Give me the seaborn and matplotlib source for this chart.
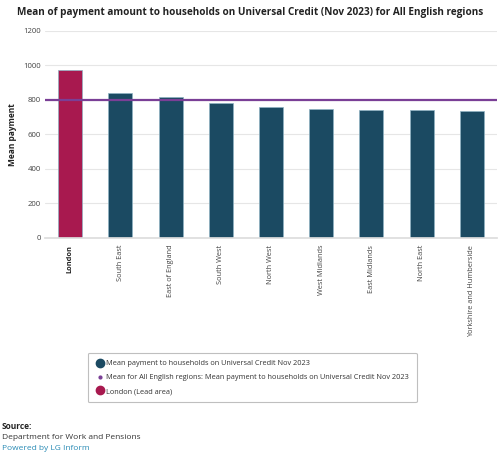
import pandas as pd
import matplotlib
matplotlib.use("Agg")
import matplotlib.pyplot as plt
import seaborn as sns
from matplotlib.lines import Line2D

# --- data ---
regions = ['London', 'South East', 'East of England', 'South West', 'North West',
           'West Midlands', 'East Midlands', 'North East', 'Yorkshire and Humberside']
mean_payment = [972, 841, 818, 784, 757, 748, 744, 743, 738]
england_mean = 798
lead_area = 'London'
y_ticks = [0, 200, 400, 600, 800, 1000, 1200]

teal = '#1b4a62'
crimson = '#a8194f'
purple = '#7a3f96'

df = pd.DataFrame({'region': regions, 'payment': mean_payment})
palette = {r: (crimson if r == lead_area else teal) for r in regions}

sns.set_theme(style='white')
plt.rcParams['font.family'] = ['Open Sans', 'DejaVu Sans']

fig = plt.figure(figsize=(5, 4.54), dpi=100)
ax = fig.add_axes([0.09, 0.476, 0.904, 0.456])

sns.barplot(data=df, x='region', y='payment', hue='region', palette=palette,
            saturation=1, legend=False, width=0.48, edgecolor='#8fb3c4',
            linewidth=0.5, ax=ax, zorder=2)
ax.axhline(england_mean, color=purple, linewidth=1.6, zorder=3)

ax.set_ylim(0, 1200)
ax.set_yticks(y_ticks)
ax.set_yticklabels([str(t) for t in y_ticks], fontsize=5.6, color='#444444')
ax.yaxis.grid(True, color='#e6e6e6', linewidth=0.8, zorder=0)
ax.set_axisbelow(True)
ax.tick_params(axis='y', length=0, pad=3)
ax.tick_params(axis='x', length=0, pad=5)
for s in ['top', 'right', 'left']:
    ax.spines[s].set_visible(False)
ax.spines['bottom'].set_color('#dddddd')
ax.set_xlim(-0.5, len(regions) - 0.5)

ax.set_xticks(range(len(regions)))
ax.set_xticklabels(regions, rotation=90, fontsize=5.3, color='#444444', va='top')
for lbl in ax.get_xticklabels():
    if lbl.get_text() == lead_area:
        lbl.set_fontweight('bold')
        lbl.set_color('#222222')

ax.set_xlabel('')
ax.set_ylabel('Mean payment', fontsize=6, fontweight='bold', color='#222222')
ax.yaxis.set_label_coords(-0.063, 0.5)

fig.text(0.5, 0.973, 'Mean of payment amount to households on Universal Credit (Nov 2023) for All English regions',
         ha='center', va='center', fontsize=7.2, fontweight='bold', color='#222222')

handles = [
    Line2D([], [], marker='o', linestyle='', color=teal, markersize=6),
    Line2D([], [], marker='o', linestyle='', color=purple, markersize=2),
    Line2D([], [], marker='o', linestyle='', color=crimson, markersize=6),
]
labels = ['Mean payment to households on Universal Credit Nov 2023',
          'Mean for All English regions: Mean payment to households on Universal Credit Nov 2023',
          'London (Lead area)']
leg = fig.legend(handles, labels, loc='upper left', bbox_to_anchor=(0.176, 0.2225),
                 borderaxespad=0, fontsize=5.3, frameon=True, fancybox=True,
                 handletextpad=0.3, labelspacing=0.9, borderpad=1.0, handlelength=1.2)
leg.get_frame().set_edgecolor('#b0b0b0')
leg.get_frame().set_linewidth(0.8)
for t in leg.get_texts():
    t.set_color('#333333')

fig.text(0.004, 0.061, 'Source:', fontsize=6, fontweight='bold', color='#222222', va='center')
fig.text(0.004, 0.036, 'Department for Work and Pensions', fontsize=6, color='#333333', va='center')
fig.text(0.004, 0.012, 'Powered by LG Inform', fontsize=6, color='#2a8bb5', va='center')

fig.savefig('out.png', dpi=100)
